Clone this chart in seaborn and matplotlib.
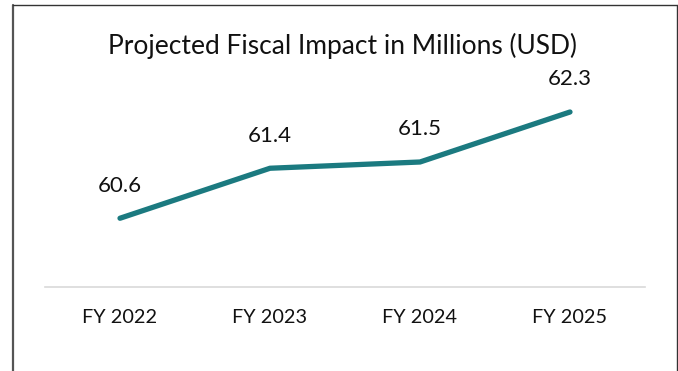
import matplotlib
matplotlib.use("Agg")
import matplotlib.pyplot as plt
from matplotlib.lines import Line2D
import seaborn as sns
import pandas as pd

years = ["FY 2022", "FY 2023", "FY 2024", "FY 2025"]
impact = [60.6, 61.4, 61.5, 62.3]
title = "Projected Fiscal Impact in Millions (USD)"

line_color = "#1b7a80"

sns.set_theme(style="white")
plt.rcParams["font.family"] = ["Lato", "DejaVu Sans"]

W, H = 678, 371
fig = plt.figure(figsize=(W / 100, H / 100), dpi=100)
fig.patch.set_facecolor("white")

def px_rect(left, top, right, bottom):
    return [left / W, 1 - bottom / H, (right - left) / W, (bottom - top) / H]

ax = fig.add_axes(px_rect(45, 68.25, 645, 287))

df = pd.DataFrame({"year": years, "impact": impact})
sns.lineplot(data=df, x="year", y="impact", sort=False, ax=ax,
             color=line_color, linewidth=3.8, solid_capstyle="round",
             solid_joinstyle="round")

ax.set_xlim(-0.5, len(years) - 0.5)
ax.set_ylim(59.5, 63.0)
ax.set_xlabel("")
ax.set_ylabel("")
ax.set_yticks([])
ax.set_xticks(range(len(years)))
ax.set_xticklabels(years, fontsize=14.3, color="#111111")
ax.tick_params(axis="x", length=0, pad=16)

for side in ["top", "right", "left"]:
    ax.spines[side].set_visible(False)
ax.spines["bottom"].set_color("#d9d9d9")
ax.spines["bottom"].set_linewidth(1.2)

for i, v in enumerate(impact):
    ax.annotate(f"{v:.1f}", xy=(i, v), xytext=(0, 23.5),
                textcoords="offset points", ha="center", va="center",
                fontsize=16, color="#111111")

fig.text(343 / W, 1 - 45.5 / H, title, ha="center", va="center",
         fontsize=19, color="#111111")

# outer frame
fig.add_artist(Line2D([13 / W, 13 / W], [0, 1 - 5 / H], transform=fig.transFigure,
                      color="#555555", linewidth=1.6))
fig.add_artist(Line2D([13 / W, 677 / W], [1 - 5 / H, 1 - 5 / H], transform=fig.transFigure,
                      color="#333333", linewidth=1.0))
fig.add_artist(Line2D([677 / W, 677 / W], [0, 1 - 5 / H], transform=fig.transFigure,
                      color="#333333", linewidth=1.0))

fig.savefig("out.png", dpi=100, facecolor="white")
